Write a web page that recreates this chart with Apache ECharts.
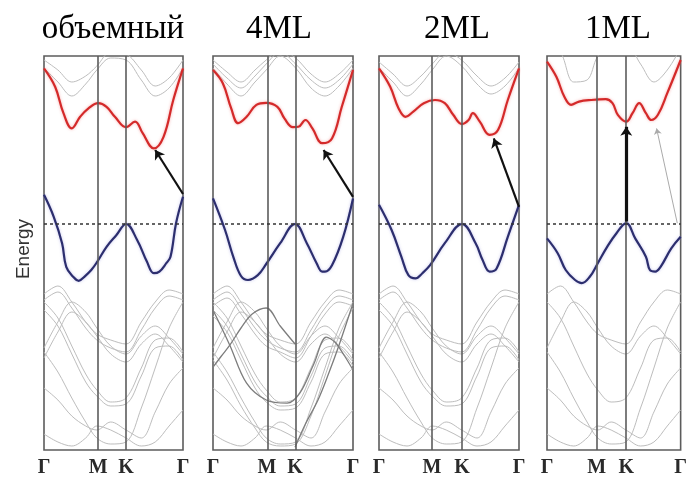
<!DOCTYPE html>
<html><head><meta charset="utf-8">
<script src="https://cdn.jsdelivr.net/npm/echarts@6/dist/echarts.min.js"></script>
<style>html,body{margin:0;padding:0;background:#fff}#c{width:690px;height:481px}</style>
</head><body><div id="c"></div>
<script>
// ---------- data ----------
const panelTitles = ['объемный', '4ML', '2ML', '1ML'];
const pathLabels = ['Γ', 'M', 'K', 'Γ'];
const axisTitle = 'Energy';
// positions of M and K along the normalized Γ-M-K-Γ path, per panel
const symPoints = [[0.39, 0.59], [0.386, 0.586], [0.379, 0.593], [0.371, 0.593]];

// conduction band (red) and valence band (blue)
const redK_bulk = [0, .08, .14, .2, .26, .32, .39, .45, .51, .59, .655, .71, .79, .86, .93, 1];
const redE_bulk = [3.89, 3.43, 2.77, 2.39, 2.68, 2.89, 3.02, 2.93, 2.68, 2.42, 2.56, 2.27, 1.89, 2.18, 3.1, 3.89];
const blueK_bulk = [0, .07, .13, .16, .21, .25, .29, .34, .38, .45, .52, .59, .67, .74, .79, .83, .88, .91, .95, 1];
const blueE_bulk = [0.73, 0.18, -0.48, -1.07, -1.32, -1.42, -1.32, -1.15, -0.96, -0.57, -0.28, 0, -0.4, -0.94, -1.23, -1.19, -0.98, -0.82, 0.02, 0.68];

const redK_4 = [0, .07, .13, .18, .24, .31, .38, .46, .51, .57, .61, .66, .71, .78, .85, .92, 1];
const redE_4 = [3.85, 3.52, 2.89, 2.52, 2.68, 2.98, 3.03, 2.93, 2.64, 2.42, 2.43, 2.6, 2.39, 2.02, 2.14, 2.93, 3.85];
const blueK_4 = [0, .086, .145, .2, .25, .32, .38, .48, .586, .67, .74, .78, .8, .85, .93, 1];
const blueE_4 = [0.64, -0.15, -0.82, -1.3, -1.4, -1.28, -1.0, -0.48, 0, -0.48, -0.98, -1.19, -1.19, -1.03, -0.32, 0.64];

const redK_2 = [0, .08, .14, .19, .245, .32, .40, .47, .53, .593, .64, .67, .72, .79, .85, .92, 1];
const redE_2 = [3.89, 3.43, 2.89, 2.68, 2.81, 3.02, 3.1, 3.02, 2.73, 2.5, 2.6, 2.77, 2.56, 2.23, 2.35, 3.1, 3.89];
const blueK_2 = [0, .09, .16, .21, .26, .31, .365, .47, .593, .69, .74, .79, .84, .92, 1];
const blueE_2 = [0.48, -0.15, -0.82, -1.28, -1.36, -1.23, -1.03, -0.48, 0, -0.48, -0.9, -1.19, -1.11, -0.32, 0.48];

const redK_1 = [0, .07, .13, .18, .24, .33, .44, .49, .53, .593, .64, .69, .74, .78, .83, .9, 1];
const redE_1 = [4.06, 3.68, 3.18, 2.98, 3.06, 3.1, 3.12, 3.02, 2.73, 2.56, 2.77, 3.02, 2.77, 2.6, 2.73, 3.27, 4.1];
const blueK_1 = [0, .08, .14, .21, .26, .32, .38, .45, .52, .593, .66, .74, .77, .81, .85, .93, 1];
const blueE_1 = [-0.36, -0.73, -1.15, -1.4, -1.48, -1.32, -0.98, -0.57, -0.23, 0.02, -0.36, -0.82, -1.15, -1.19, -1.07, -0.61, -0.32];

// other bands (grey), sampled on a common k grid
const kGrid = [0, 0.1, 0.2, 0.3, 0.38, 0.48, 0.59, 0.7, 0.8, 0.9, 1];
const lowA = [-1.75, -1.55, -1.95, -2.45, -2.75, -2.9, -3.0, -2.45, -1.95, -1.65, -1.75];
const lowB = [-3.1, -2.45, -1.95, -2.2, -2.6, -3.05, -3.25, -2.8, -2.55, -2.85, -3.25];
const lowC = [-1.95, -2.35, -3.05, -3.75, -4.15, -4.45, -4.35, -3.6, -2.9, -2.85, -3.2];
const lowD = [-3.2, -3.7, -4.35, -4.95, -5.35, -5.5, -5.45, -4.6, -3.6, -2.6, -1.95];
const lowE = [-4.1, -4.4, -4.8, -5.05, -5.15, -4.95, -5.15, -5.35, -4.7, -4.0, -3.6];
const lowF = [-5.25, -5.45, -5.55, -5.35, -5.05, -5.15, -5.35, -5.55, -5.45, -5.05, -4.65];
const splitA = [-1.9, -1.7, -2.1, -2.6, -2.9, -3.1, -3.2, -2.65, -2.1, -1.8, -1.9];
const splitB = [-3.35, -2.7, -2.2, -2.45, -2.8, -3.25, -3.45, -3.0, -2.75, -3.05, -3.45];
const splitC = [-2.15, -2.55, -3.25, -3.95, -4.3, -4.55, -4.5, -3.8, -3.1, -3.05, -3.4];
const extra4a = [-2.05, -1.85, -2.25, -2.75, -3.05, -3.2, -3.35, -2.8, -2.25, -1.95, -2.05];
const extra4b = [-2.3, -2.7, -3.4, -4.1, -4.45, -4.65, -4.6, -3.95, -3.25, -3.2, -3.55];
const extra4d = [-3.4, -3.9, -4.55, -5.1, -5.45, -5.55, -5.5, -4.8, -3.8, -2.8, -2.1];
// darker, overlapping bands in the 4ML panel (own k samples)
const dark4K1 = [0, .12, .24, .38, .53, .62, .72, .81, .87, .94, 1];
const dark4E1 = [-2.15, -3.03, -3.98, -4.4, -4.48, -4.23, -3.5, -2.83, -2.95, -3.3, -3.65];
const dark4K2 = [0, .06, .12, .2, .28, .38, .48, .586];
const dark4E2 = [-3.58, -3.3, -3.03, -2.6, -2.25, -2.1, -2.55, -3.0];
const dark4K3 = [.586, .66, .75, .83, .9, 1];
const dark4E3 = [-5.58, -5.0, -4.4, -3.7, -3.03, -1.98];
const upBulkA = [3.9, 3.55, 3.2, 3.5, 3.85, 4.15, 4.1, 3.6, 3.2, 3.4, 3.9];
const upBulkB = [4.1, 3.85, 3.55, 3.7, 3.95, 4.3, 4.25, 3.85, 3.45, 3.65, 4.1];
const up4A = [3.9, 3.5, 3.2, 3.55, 3.85, 4.2, 3.9, 3.4, 3.2, 3.45, 3.9];
const up4B = [4.0, 3.65, 3.4, 3.7, 4.0, 4.3, 4.0, 3.6, 3.4, 3.6, 4.0];
const up4C = [4.1, 3.8, 3.55, 3.85, 4.1, 4.35, 4.15, 3.75, 3.55, 3.75, 4.1];
const up2A = [3.9, 3.55, 3.2, 3.5, 3.85, 4.2, 3.95, 3.5, 3.25, 3.45, 3.9];
const up2B = [4.05, 3.75, 3.45, 3.7, 4.0, 4.3, 4.1, 3.7, 3.45, 3.65, 4.05];
const up1A = [4.5, 4.3, 3.55, 3.6, 4.2, 4.5, 4.5, 4.0, 3.55, 3.85, 4.4];

// transitions [tail, head] as [k, E]
const arrowBulk = [[1, 0.75], [0.8, 1.85]];
const arrow4 = [[1, 0.68], [0.79, 1.85]];
const arrow2 = [[1, 0.43], [0.82, 2.14]];
const arrow1 = [[0.593, 0.06], [0.593, 2.43]];
const arrow1Thin = [[0.975, 0.02], [0.82, 2.39]];

// ---------- chart ----------
const panels = [
  { redK: redK_bulk, redE: redE_bulk, blueK: blueK_bulk, blueE: blueE_bulk,
    greys: [upBulkA, upBulkB, lowA, splitA, lowB, splitB, lowC, splitC, lowD, lowE, lowF], dark: [],
    arrows: [arrowBulk], thin: [] },
  { redK: redK_4, redE: redE_4, blueK: blueK_4, blueE: blueE_4,
    greys: [up4A, up4B, up4C, lowA, splitA, extra4a, lowB, splitB, lowC, splitC, extra4b, lowD, extra4d, lowE, lowF],
    dark: [[dark4K1, dark4E1], [dark4K2, dark4E2], [dark4K3, dark4E3]],
    arrows: [arrow4], thin: [] },
  { redK: redK_2, redE: redE_2, blueK: blueK_2, blueE: blueE_2,
    greys: [up2A, up2B, lowA, splitA, lowB, splitB, lowC, splitC, lowD, lowE, lowF], dark: [],
    arrows: [arrow2], thin: [] },
  { redK: redK_1, redE: redE_1, blueK: blueK_1, blueE: blueE_1,
    greys: [up1A, lowA, lowB, lowC, lowD, lowE, lowF], dark: [],
    arrows: [arrow1], thin: [arrow1Thin] }
];

const lefts = [44, 213, 379, 547];
const widths = [139, 140, 140, 140];
const zip = (a, b) => a.map((v, i) => [v, b[i]]);

const grid = [], xAxis = [], yAxis = [], series = [];
panels.forEach((p, i) => {
  const [M, K] = symPoints[i];
  const ticks = [0, M, K, 1];
  grid.push({ left: lefts[i], top: 56, width: widths[i], height: 394, show: true,
    borderColor: '#5c5c5c', borderWidth: 1.6, backgroundColor: 'rgba(0,0,0,0)' });
  xAxis.push({ gridIndex: i, type: 'value', min: 0, max: 1,
    axisLine: { show: false }, axisTick: { show: false }, splitLine: { show: false },
    axisLabel: { customValues: ticks, showMinLabel: true, showMaxLabel: true, margin: 8,
      fontFamily: 'Liberation Serif', fontSize: 20, color: '#2a2a2a', fontWeight: 'bold',
      formatter: (v) => { let best = 0; ticks.forEach((t, j) => { if (Math.abs(t - v) < Math.abs(ticks[best] - v)) best = j; }); return pathLabels[best]; } } });
  yAxis.push({ gridIndex: i, type: 'value', min: -5.65, max: 4.2, show: false });

  // frame lines: M, K verticals and Fermi level
  series.push({ type: 'line', xAxisIndex: i, yAxisIndex: i, data: [], silent: true,
    markLine: { silent: true, symbol: ['none', 'none'], label: { show: false }, animation: false,
      data: [
        { xAxis: M, lineStyle: { type: 'solid', color: '#5c5c5c', width: 1.6 } },
        { xAxis: K, lineStyle: { type: 'solid', color: '#5c5c5c', width: 1.6 } },
        { yAxis: 0, lineStyle: { type: [3, 3], color: '#333', width: 1.6 } }
      ] } });
  p.greys.forEach(b => series.push({ type: 'line', xAxisIndex: i, yAxisIndex: i, data: zip(kGrid, b),
    smooth: 0.35, symbol: 'none', silent: true, z: 1, lineStyle: { color: '#bdbdbd', width: 1 } }));
  p.dark.forEach(b => series.push({ type: 'line', xAxisIndex: i, yAxisIndex: i, data: zip(b[0], b[1]),
    smooth: 0.35, symbol: 'none', silent: true, z: 2, lineStyle: { color: '#7d7d7d', width: 1.3 } }));
  series.push({ type: 'line', xAxisIndex: i, yAxisIndex: i, data: zip(p.redK, p.redE), smooth: 0.4,
    symbol: 'none', silent: true, z: 3,
    lineStyle: { color: '#d42a2a', width: 2.2, shadowColor: 'rgba(240,120,120,0.6)', shadowBlur: 3 } });
  series.push({ type: 'line', xAxisIndex: i, yAxisIndex: i, data: zip(p.blueK, p.blueE), smooth: 0.4,
    symbol: 'none', silent: true, z: 3,
    lineStyle: { color: '#2c2e6e', width: 2.2, shadowColor: 'rgba(140,140,220,0.5)', shadowBlur: 3 } });
  series.push({ type: 'line', xAxisIndex: i, yAxisIndex: i, data: [], silent: true, z: 5,
    markLine: { silent: true, symbol: ['none', 'arrow'], label: { show: false }, animation: false,
      data: p.arrows.map(a => [{ coord: a[0], symbolSize: 1, lineStyle: { color: '#111', width: i === 3 ? 3.2 : 2.2, type: 'solid' } },
                                { coord: a[1], symbolSize: 9 }])
        .concat(p.thin.map(a => [{ coord: a[0], lineStyle: { color: '#aaa', width: 1, type: 'solid' } },
                                 { coord: a[1], symbolSize: 6 }])) } });
});

const titleX = [113, 279, 457, 618];
const graphic = panelTitles.map((t, i) => ({ type: 'text', x: titleX[i], y: 29,
  style: { text: t, font: '33px "Liberation Serif"', fill: '#000', align: 'center', verticalAlign: 'middle' } }));
graphic.push({ type: 'text', x: 24, y: 249, rotation: Math.PI / 2,
  style: { text: axisTitle, font: '19px "Liberation Sans"', fill: '#333', align: 'center', verticalAlign: 'middle' } });

const chart = echarts.init(document.getElementById('c'), null, { renderer: 'canvas' });
chart.setOption({ animation: false, backgroundColor: '#fff', grid, xAxis, yAxis, series, graphic });
</script></body></html>
